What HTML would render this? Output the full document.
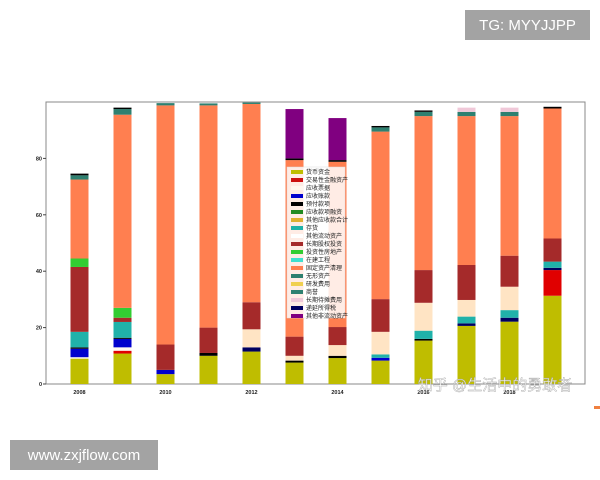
<!DOCTYPE html>
<html><head><meta charset="utf-8">
<style>
html,body{margin:0;padding:0;background:#fff;}
body{width:600px;height:480px;overflow:hidden;position:relative;font-family:"Liberation Sans","Noto Sans CJK SC",sans-serif;}
.wm{position:absolute;background:#a3a3a3;color:#fff;font-size:15px;display:flex;align-items:center;justify-content:center;}
</style></head><body>
<svg id="s" width="600" height="480" style="position:absolute;left:0;top:0" xmlns="http://www.w3.org/2000/svg">
<rect x="46" y="102" width="539" height="282" fill="#fff" stroke="#888" stroke-width="1"/>
<g font-size="5.5" font-weight="bold" fill="#222" text-anchor="end">
<text x="42" y="386">0</text><text x="42" y="329.6">20</text><text x="42" y="273.2">40</text><text x="42" y="216.8">60</text><text x="42" y="160.4">80</text>
</g>
<g stroke="#444" stroke-width="1">
<line x1="43" y1="384" x2="46" y2="384"/><line x1="43" y1="327.6" x2="46" y2="327.6"/><line x1="43" y1="271.2" x2="46" y2="271.2"/><line x1="43" y1="214.8" x2="46" y2="214.8"/><line x1="43" y1="158.4" x2="46" y2="158.4"/>
</g>
<g font-size="5.5" font-weight="bold" fill="#222" text-anchor="middle">
<text x="79.5" y="394">2008</text><text x="165.5" y="394">2010</text><text x="251.5" y="394">2012</text><text x="337.5" y="394">2014</text><text x="423.5" y="394">2016</text><text x="509.5" y="394">2018</text>
</g>
<g id="bars"></g>
<g id="leg">
<rect x="287" y="167" width="58" height="151" fill="#fff" fill-opacity="0.85" stroke="#ddd" stroke-width="0.5"/>
</g>
<g id="legt" font-size="6" fill="#222">
<text x="306" y="174">货币资金</text><text x="306" y="182">交易性金融资产</text><text x="306" y="190">应收票据</text><text x="306" y="198">应收账款</text><text x="306" y="206">预付款项</text><text x="306" y="214">应收款项融资</text><text x="306" y="222">其他应收款合计</text><text x="306" y="230">存货</text><text x="306" y="238">其他流动资产</text><text x="306" y="246">长期股权投资</text><text x="306" y="254">投资性房地产</text><text x="306" y="262">在建工程</text><text x="306" y="270">固定资产清理</text><text x="306" y="278">无形资产</text><text x="306" y="286">研发费用</text><text x="306" y="294">商誉</text><text x="306" y="302">长期待摊费用</text><text x="306" y="310">递延所得税</text><text x="306" y="318">其他非流动资产</text>
</g>
<text x="495" y="390" font-size="15" fill="#fff" stroke="#999" stroke-width="0.4" text-anchor="middle" opacity="0.9">知乎 @生活中的勇敢者</text>
<rect x="594" y="406" width="6" height="3" fill="#f08040"/>
</svg>
<div class="wm" style="left:465px;top:10px;width:125px;height:30px;">TG: MYYJJPP</div>
<div class="wm" style="left:10px;top:440px;width:148px;height:30px;">www.zxjflow.com</div>
<script>
var C={y:"#bfbd00",r:"#e00000",w:"#fff8f0",b:"#0000cd",k:"#000",g:"#32cd32",c:"#20b2aa",cr:"#ffe4c4",br:"#a52a2a",co:"#ff7f50",t:"#2e8070",p:"#800080",pk:"#f0c8d8",n:"#000060"};
var B=[
[79.5,[[0,9,"y"],[9,9.5,"w"],[9.5,12.5,"b"],[12.5,13,"k"],[13,18.5,"c"],[18.5,41.5,"br"],[41.5,44.5,"g"],[44.5,72.5,"co"],[72.5,74,"t"],[74,74.6,"k"]]],
[122.5,[[0,10.8,"y"],[10.8,11.8,"r"],[11.8,13,"w"],[13,16,"b"],[16,16.4,"k"],[16.4,22,"c"],[22,23.5,"br"],[23.5,27,"g"],[27,95.5,"co"],[95.5,97.5,"t"],[97.5,98,"k"]]],
[165.5,[[0,3.5,"y"],[3.5,5,"b"],[5,14,"br"],[14,98.8,"co"],[98.8,99.6,"t"]]],
[208.5,[[0,10,"y"],[10,11,"k"],[11,20,"br"],[20,98.8,"co"],[98.8,99.5,"t"]]],
[251.5,[[0,11.5,"y"],[11.5,13,"n"],[13,19.4,"cr"],[19.4,29,"br"],[29,99.3,"co"],[99.3,99.8,"t"]]],
[294.5,[[0,7.6,"y"],[7.6,8.3,"k"],[8.3,10,"cr"],[10,16.8,"br"],[16.8,79.4,"co"],[79.4,80,"k"],[80,97.5,"p"]]],
[337.5,[[0,9.2,"y"],[9.2,10,"k"],[10,13.8,"cr"],[13.8,20.2,"br"],[20.2,78.8,"co"],[78.8,79.4,"k"],[79.4,94.3,"p"]]],
[380.5,[[0,8.3,"y"],[8.3,9.3,"b"],[9.3,10.5,"c"],[10.5,18.5,"cr"],[18.5,30.1,"br"],[30.1,89.5,"co"],[89.5,91,"t"],[91,91.5,"k"]]],
[423.5,[[0,15.4,"y"],[15.4,16,"k"],[16,18.9,"c"],[18.9,28.8,"cr"],[28.8,40.4,"br"],[40.4,95,"co"],[95,96.5,"t"],[96.5,97,"k"]]],
[466.5,[[0,20.6,"y"],[20.6,21.5,"n"],[21.5,23.9,"c"],[23.9,29.8,"cr"],[29.8,42.2,"br"],[42.2,95,"co"],[95,96.5,"t"],[96.5,98,"pk"]]],
[509.5,[[0,22.1,"y"],[22.1,23.5,"n"],[23.5,26.2,"c"],[26.2,34.5,"cr"],[34.5,45.5,"br"],[45.5,95,"co"],[95,96.5,"t"],[96.5,98,"pk"]]],
[552.5,[[0,31.3,"y"],[31.3,40.4,"r"],[40.4,41.2,"n"],[41.2,43.4,"c"],[43.4,51.6,"br"],[51.6,97.7,"co"],[97.7,98.3,"k"]]]
];
var ns="http://www.w3.org/2000/svg",g=document.getElementById("bars");
B.forEach(function(b){b[1].forEach(function(s){var r=document.createElementNS(ns,"rect");
r.setAttribute("x",b[0]-9);r.setAttribute("width",18);r.setAttribute("y",384-s[1]*2.82);
r.setAttribute("height",(s[1]-s[0])*2.82);r.setAttribute("fill",C[s[2]]);g.appendChild(r);});});
var lc=["#bfbd00","#cc1010","#fff8f0","#0000cd","#000","#228b22","#e0b030","#20b2aa","#fff","#a52a2a","#32cd32","#40e0d0","#ff7f50","#2e8070","#f0d050","#2e8070","#f0c8d8","#000060","#800080"];
var lg=document.getElementById("leg");
lc.forEach(function(c,i){var r=document.createElementNS(ns,"rect");r.setAttribute("x",291);r.setAttribute("y",170+i*8);r.setAttribute("width",12);r.setAttribute("height",4);r.setAttribute("fill",c);lg.appendChild(r);});
</script>
</body></html>
